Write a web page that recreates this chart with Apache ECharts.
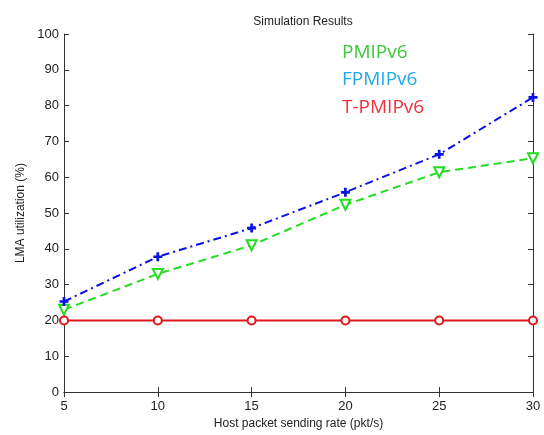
<!DOCTYPE html>
<html>
<head>
<meta charset="utf-8">
<script src="https://cdn.jsdelivr.net/npm/echarts@6/dist/echarts.min.js"></script>
<style>
  html, body { margin: 0; padding: 0; background: #fff; }
  #chart { width: 544px; height: 435px; }
</style>
</head>
<body>
<div id="chart"></div>
<script>
let rates = [5, 10, 15, 20, 25, 30]
let pmip = [23, 33, 41, 52.3, 61.4, 65.3]
let fpmip = [25.3, 37.8, 45.8, 55.8, 66.4, 82.3]
let tpmip = [20, 20, 20, 20, 20, 20]
let legendNames = ['PMIPv6', 'FPMIPv6', 'T-PMIPv6']
let legendColors = ['#3cc83c', '#23a8ec', '#f0303a']

// thick plus, like the matlab '+' marker in the picture
let plusPath = 'path://M3.5,0 L6.5,0 L6.5,3.5 L10,3.5 L10,6.5 L6.5,6.5 L6.5,10 L3.5,10 L3.5,6.5 L0,6.5 L0,3.5 L3.5,3.5 Z'

function pairs(vals) {
  return rates.map((r, i) => [r, vals[i]])
}

let chart = echarts.init(document.getElementById('chart'))

let axisLine = { show: true, lineStyle: { color: '#333', width: 1 } }
let axisLabel = { color: '#222', fontSize: 13, fontFamily: 'Liberation Sans' }

let option = {
  animation: false,
  backgroundColor: '#fff',
  title: {
    text: 'Simulation Results',
    left: 298, top: 11,
    textAlign: 'center',
    textStyle: { fontSize: 12, fontWeight: 'normal', color: '#222', fontFamily: 'Liberation Sans' }
  },
  grid: { left: 64, right: 11, top: 34, bottom: 38 },
  xAxis: [
    {
      type: 'value', min: 5, max: 30, interval: 5,
      name: 'Host packet sending rate (pkt/s)',
      nameLocation: 'middle', nameGap: 24,
      nameTextStyle: { fontSize: 12, color: '#222', fontFamily: 'Liberation Sans' },
      axisLine: axisLine,
      axisTick: { inside: true, length: 5, lineStyle: { color: '#333' } },
      axisLabel: axisLabel,
      splitLine: { show: false }
    },
    {
      type: 'value', min: 5, max: 30, interval: 5, position: 'top',
      axisLine: axisLine,
      axisTick: { inside: true, length: 5, lineStyle: { color: '#333' } },
      axisLabel: { show: false },
      splitLine: { show: false }
    }
  ],
  yAxis: [
    {
      type: 'value', min: 0, max: 100, interval: 10,
      name: 'LMA utilization (%)',
      nameLocation: 'middle', nameGap: 36,
      nameTextStyle: { fontSize: 12, color: '#222', fontFamily: 'Liberation Sans' },
      axisLine: axisLine,
      axisTick: { show: true, inside: true, length: 5, lineStyle: { color: '#333' } },
      axisLabel: Object.assign({ margin: 5 }, axisLabel),
      splitLine: { show: false }
    },
    {
      type: 'value', min: 0, max: 100, interval: 10, position: 'right',
      axisLine: axisLine,
      axisTick: { show: true, inside: true, length: 5, lineStyle: { color: '#333' } },
      axisLabel: { show: false },
      splitLine: { show: false }
    }
  ],
  graphic: legendNames.map((n, i) => ({
    type: 'text',
    left: 342, top: 43 + i * 27.5,
    style: { text: n, fill: legendColors[i], fontSize: 19, fontFamily: 'Open Sans' }
  })),
  series: [
    {
      name: 'FPMIPv6', type: 'line', data: pairs(fpmip),
      symbol: plusPath, symbolSize: 9, showAllSymbol: true,
      itemStyle: { color: '#0a10e6' },
      lineStyle: { color: '#0a10e6', width: 2, type: [8, 4, 2, 4] },
      z: 3
    },
    {
      name: 'PMIPv6', type: 'line', data: pairs(pmip),
      symbol: 'emptyTriangle', symbolRotate: 180, symbolSize: 10,
      itemStyle: { color: '#22dd22', borderWidth: 2 },
      lineStyle: { color: '#22dd22', width: 2, type: [8, 5] },
      z: 2
    },
    {
      name: 'T-PMIPv6', type: 'line', data: pairs(tpmip),
      symbol: 'emptyCircle', symbolSize: 8,
      itemStyle: { color: '#e01818', borderWidth: 1.5 },
      lineStyle: { color: '#e01818', width: 2 },
      z: 2
    }
  ]
}

chart.setOption(option)
</script>
</body>
</html>
